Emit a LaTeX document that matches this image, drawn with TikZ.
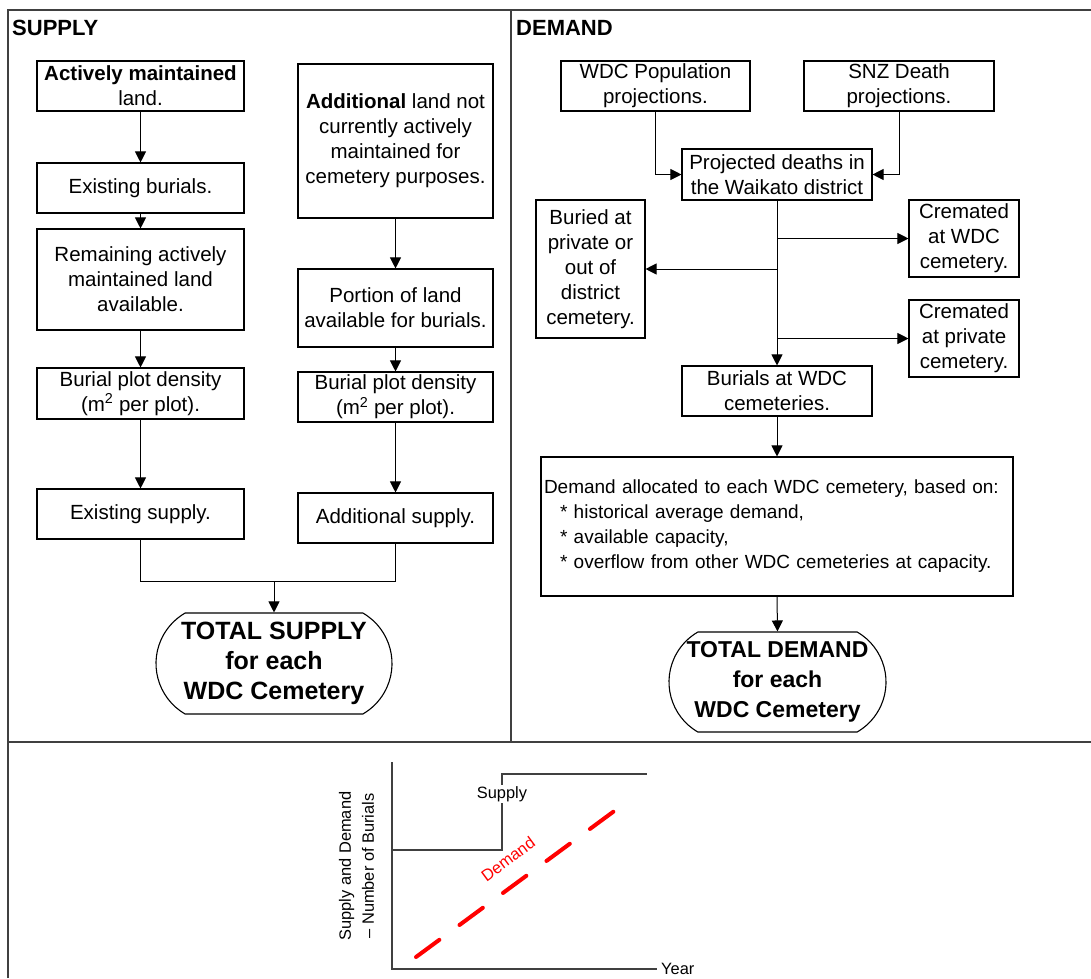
\documentclass[tikz,border=0pt]{standalone}
\usepackage{fontspec}
\setmainfont{Liberation Sans}
\usetikzlibrary{arrows.meta,shapes.misc}
\begin{document}
\begin{tikzpicture}[x=1pt,y=-1pt,
  frame/.style={draw=black!75,line width=1.5pt},
  box/.style={draw=black,line width=1.1pt,inner sep=0pt,align=center,
    font=\fontsize{20.5}{25}\selectfont},
  arr/.style={draw=black,line width=1pt,-{Triangle[length=11pt,width=11pt]}},
  conn/.style={draw=black,line width=1pt},
  oval/.style={draw=black,line width=1.1pt,rounded rectangle,rounded rectangle arc length=120,
    inner sep=0pt,align=center,font=\fontsize{25}{30}\selectfont\bfseries},
  title/.style={anchor=base west,inner sep=0pt,font=\fontsize{22}{26}\selectfont\bfseries},
  chart/.style={draw=black!75,line width=1.2pt},
  lbl/.style={inner sep=1pt,font=\fontsize{16.4}{23}\selectfont}]
\useasboundingbox (0,0) rectangle (1091,978);
% frame
\draw[frame] (8,978) -- (8,10) -- (1091,10);
\draw[frame] (511,10) -- (511,742);
\draw[frame] (8,742) -- (1091,742);
\node[title] (ts) at (12,35) {SUPPLY};
\node[title] (td) at (516,35) {DEMAND};
% supply left column
\node[box,minimum width=207pt,minimum height=50pt] (A) at (140.5,86) {\textbf{Actively maintained}\\land.};
\node[box,minimum width=207pt,minimum height=50pt] (B) at (140.5,188) {Existing burials.};
\node[box,minimum width=207pt,minimum height=101pt] (C) at (140.5,279.5) {Remaining actively\\maintained land\\available.};
\node[box,minimum width=207pt,minimum height=51pt] (D) at (140.5,393.5) {Burial plot density\\(m\textsuperscript{2} per plot).};
\node[box,minimum width=207pt,minimum height=50pt] (E) at (140.5,514) {Existing supply.};
% supply right column
\node[box,minimum width=195pt,minimum height=154pt] (R1) at (395.5,141) {\textbf{Additional} land not\\currently actively\\maintained for\\cemetery purposes.};
\node[box,minimum width=195pt,minimum height=78pt] (R2) at (395.5,308) {Portion of land\\available for burials.};
\node[box,minimum width=195pt,minimum height=50pt] (R3) at (395.5,397) {Burial plot density\\(m\textsuperscript{2} per plot).};
\node[box,minimum width=195pt,minimum height=50pt] (R4) at (395.5,518) {Additional supply.};
\node[oval,minimum width=236pt,minimum height=101pt] (S) at (274,663.5) {TOTAL SUPPLY\\for each\\WDC Cemetery};
\draw[arr] (A) -- (B);
\draw[arr] (B) -- (C);
\draw[arr] (C) -- (D);
\draw[arr] (D) -- (E);
\draw[arr] (R1) -- (R2);
\draw[arr] (R2) -- (R3);
\draw[arr] (R3) -- (R4);
\coordinate (jl) at (140.5,581);
\coordinate (jr) at (395.5,581);
\coordinate (jm) at (274,581);
\draw[conn] (E.south) -- (jl) -- (jr) -- (R4.south);
\draw[arr] (jm) -- (S.north);
% demand
\node[box,minimum width=189pt,minimum height=50pt] (P) at (655.5,86) {WDC Population\\projections.};
\node[box,minimum width=190pt,minimum height=50pt] (N) at (899,86) {SNZ Death\\projections.};
\node[box,minimum width=190pt,minimum height=51pt] (PD) at (777,174.5) {Projected deaths in\\the Waikato district};
\node[box,minimum width=109pt,minimum height=138pt] (BP) at (590.5,269) {Buried at\\private or\\out of\\district\\cemetery.};
\node[box,minimum width=110pt,minimum height=77pt] (CW) at (964,238.5) {Cremated\\at WDC\\cemetery.};
\node[box,minimum width=110pt,minimum height=77pt] (CP) at (964,338.5) {Cremated\\at private\\cemetery.};
\node[box,minimum width=190pt,minimum height=50pt] (BW) at (777,391) {Burials at WDC\\cemeteries.};
\node[box,minimum width=472pt,minimum height=139pt,text width=466pt,inner xsep=3pt,align=left,
  font=\fontsize{19}{25}\selectfont] (DA) at (777,526.5)
  {\mbox{Demand allocated to each WDC cemetery, based on:}\\
   \mbox{\hspace*{16pt}* historical average demand,}\\
   \mbox{\hspace*{16pt}* available capacity,}\\
   \mbox{\hspace*{16pt}* overflow from other WDC cemeteries at capacity.}};
\node[oval,minimum width=217pt,minimum height=100pt,font=\fontsize{23}{30}\selectfont\bfseries] (TD) at (777.5,682) {TOTAL DEMAND\\for each\\WDC Cemetery};
\draw[arr] (P.south) |- (PD.west);
\draw[arr] (N.south) |- (PD.east);
\draw[arr] (PD.south) -- (BW.north);
\coordinate (b1) at (PD.south |- CW.west);
\coordinate (b2) at (PD.south |- BP.east);
\coordinate (b3) at (PD.south |- CP.west);
\draw[arr] (b1) -- (CW.west);
\draw[arr] (b2) -- (BP.east);
\draw[arr] (b3) -- (CP.west);
\draw[arr] (BW) -- (DA);
\draw[arr] (DA.south) -- (TD.north);
% chart
\draw[chart] (392,762) -- (392,969) -- (657,969);
\draw[chart] (392,850) -- (502,850) -- (502,774) -- (647,774);
\node[lbl,fill=white] (sl) at (502,794) {Supply};
\draw[red,line width=4pt,line cap=round,dash pattern=on 29pt off 25pt] (416,957) -- (617,809);
\node[lbl,text=red,rotate=36.4,inner sep=0pt] (dl) at (508,859) {Demand};
\node[lbl,anchor=west,inner sep=0pt] (yr) at (661,969) {Year};
\node[lbl,rotate=90,align=center,inner sep=0pt] (yl) at (356.5,866) {Supply and Demand\\– Number of Burials};
\end{tikzpicture}
\end{document}
